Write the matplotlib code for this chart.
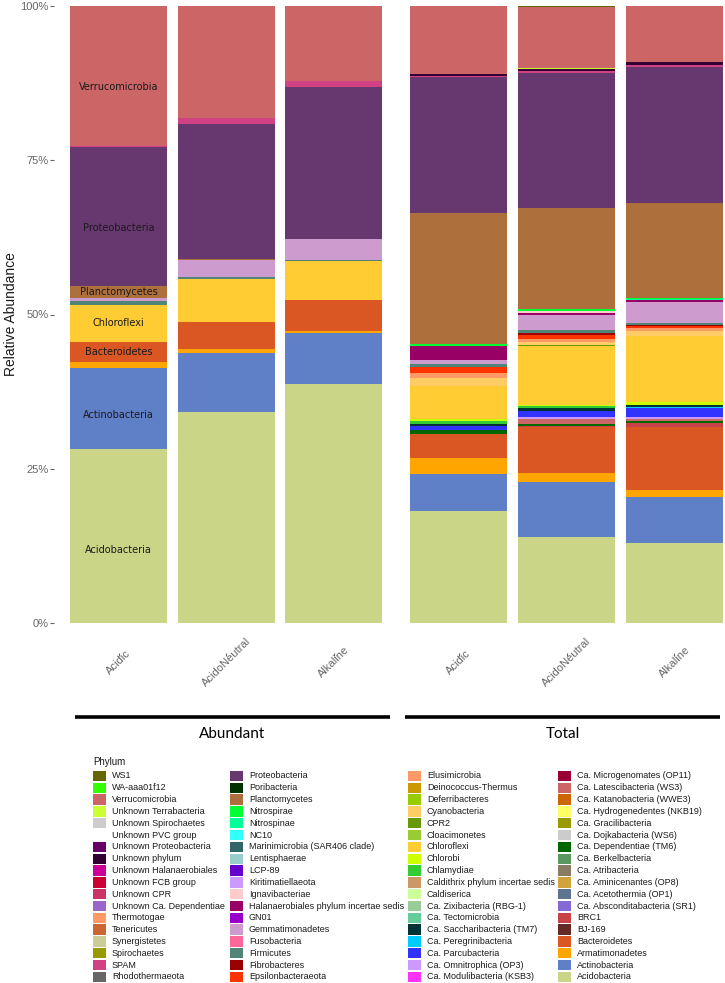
import matplotlib
matplotlib.use("Agg")
import matplotlib.pyplot as plt
from matplotlib.patches import Rectangle
import matplotlib.transforms as mtransforms
import numpy as np

# ---------------- data ----------------
phyla = [
    "WS1", "WA-aaa01f12", "Verrucomicrobia", "Unknown Terrabacteria", "Unknown Spirochaetes",
    "Unknown PVC group", "Unknown Proteobacteria", "Unknown phylum", "Unknown Halanaerobiales",
    "Unknown FCB group", "Unknown CPR", "Unknown Ca. Dependentiae", "Thermotogae", "Tenericutes",
    "Synergistetes", "Spirochaetes", "SPAM", "Rhodothermaeota",
    "Proteobacteria", "Poribacteria", "Planctomycetes", "Nitrospirae", "Nitrospinae", "NC10",
    "Marinimicrobia (SAR406 clade)", "Lentisphaerae", "LCP-89", "Kiritimatiellaeota", "Ignavibacteriae",
    "Halanaerobiales phylum incertae sedis", "GN01", "Gemmatimonadetes", "Fusobacteria", "Firmicutes",
    "Fibrobacteres", "Epsilonbacteraeota",
    "Elusimicrobia", "Deinococcus-Thermus", "Deferribacteres", "Cyanobacteria", "CPR2", "Cloacimonetes",
    "Chloroflexi", "Chlorobi", "Chlamydiae", "Caldithrix phylum incertae sedis", "Caldiserica",
    "Ca. Zixibacteria (RBG-1)", "Ca. Tectomicrobia", "Ca. Saccharibacteria (TM7)", "Ca. Peregrinibacteria",
    "Ca. Parcubacteria", "Ca. Omnitrophica (OP3)", "Ca. Modulibacteria (KSB3)",
    "Ca. Microgenomates (OP11)", "Ca. Latescibacteria (WS3)", "Ca. Katanobacteria (WWE3)",
    "Ca. Hydrogenedentes (NKB19)", "Ca. Gracilibacteria", "Ca. Dojkabacteria (WS6)",
    "Ca. Dependentiae (TM6)", "Ca. Berkelbacteria", "Ca. Atribacteria", "Ca. Aminicenantes (OP8)",
    "Ca. Acetothermia (OP1)", "Ca. Absconditabacteria (SR1)", "BRC1", "BJ-169", "Bacteroidetes",
    "Armatimonadetes", "Actinobacteria", "Acidobacteria",
]

phylum_colors = [
    "#666600", "#33FF00", "#CC6666", "#CCFF33", "#CCCCCC", "#FFFFFF", "#660066", "#330033", "#CC0099",
    "#CC0033", "#CC3366", "#9966CC", "#FF9966", "#CC6633", "#CCCC99", "#999900", "#D14285", "#666666",
    "#673770", "#003300", "#AD6F3B", "#00FF33", "#00FF99", "#33FFFF", "#336666", "#99CCCC", "#6600CC",
    "#CC99FF", "#FFCCCC", "#990066", "#9900CC", "#CD9BCD", "#FF6699", "#508578", "#990000", "#FF3300",
    "#FF9966", "#CC9900", "#99CC00", "#FFCC66", "#669900", "#99CC33", "#FFCC33", "#CCFF00", "#33CC33",
    "#CC9966", "#CCFF99", "#99CC99", "#66CC99", "#003333", "#00CCFF", "#3333FF", "#CC99FF", "#FF33FF",
    "#990033", "#CC6666", "#CC6600", "#FFFF66", "#999900", "#CCCCCC", "#006600", "#599861", "#8A7C64",
    "#D1A33D", "#5E738F", "#8569D5", "#C84248", "#652926", "#DA5724", "#FFA500", "#5F7FC7", "#CBD588",
]

samples = ["Acidic", "AcidoNeutral", "Alkaline", "Acidic", "AcidoNeutral", "Alkaline"]
groups = ["Abundant", "Total"]

abundant_acidic = {
    "Acidobacteria": 28.2, "Actinobacteria": 13.1, "Armatimonadetes": 1.0, "Bacteroidetes": 3.3,
    "Chloroflexi": 6.0, "Firmicutes": 0.6, "Gemmatimonadetes": 0.5, "Planctomycetes": 1.9,
    "Proteobacteria": 22.5, "SPAM": 0.2, "Verrucomicrobia": 22.7,
}
abundant_acidoneutral = {
    "Acidobacteria": 34.2, "Actinobacteria": 9.5, "Armatimonadetes": 0.7, "Bacteroidetes": 4.4,
    "Chloroflexi": 6.9, "Firmicutes": 0.4, "Gemmatimonadetes": 2.8, "Planctomycetes": 0.1,
    "Proteobacteria": 21.9, "SPAM": 0.9, "Verrucomicrobia": 18.2,
}
abundant_alkaline = {
    "Acidobacteria": 38.7, "Actinobacteria": 8.3, "Armatimonadetes": 0.4, "Bacteroidetes": 5.0,
    "Chloroflexi": 6.2, "Firmicutes": 0.3, "Gemmatimonadetes": 3.3, "Proteobacteria": 24.6,
    "SPAM": 1.0, "Verrucomicrobia": 12.2,
}
total_acidic = {
    "Acidobacteria": 18.2, "Actinobacteria": 6.0, "Armatimonadetes": 2.5, "Bacteroidetes": 3.9,
    "Ca. Dependentiae (TM6)": 0.6, "Ca. Omnitrophica (OP3)": 0.15, "Ca. Parcubacteria": 0.5,
    "Ca. Peregrinibacteria": 0.1, "Ca. Saccharibacteria (TM7)": 0.25, "Chlamydiae": 0.55,
    "Chlorobi": 0.3, "Chloroflexi": 5.4, "Cyanobacteria": 1.25, "Elusimicrobia": 0.75,
    "Epsilonbacteraeota": 1.1, "Firmicutes": 0.45, "Gemmatimonadetes": 0.65,
    "Halanaerobiales phylum incertae sedis": 2.2, "Nitrospirae": 0.3, "Planctomycetes": 21.3,
    "Proteobacteria": 22.0, "SPAM": 0.2, "Unknown phylum": 0.4, "Verrucomicrobia": 10.95,
}
total_acidoneutral = {
    "Acidobacteria": 13.9, "Actinobacteria": 8.9, "Armatimonadetes": 1.5, "Bacteroidetes": 7.5,
    "BRC1": 0.2, "Ca. Dependentiae (TM6)": 0.3, "Ca. Latescibacteria (WS3)": 0.8,
    "Ca. Omnitrophica (OP3)": 0.3, "Ca. Parcubacteria": 1.0, "Ca. Saccharibacteria (TM7)": 0.5,
    "Chlamydiae": 0.2, "Chlorobi": 0.3, "Chloroflexi": 9.5, "CPR2": 0.15, "Cyanobacteria": 0.45,
    "Elusimicrobia": 0.6, "Epsilonbacteraeota": 0.65, "Fibrobacteres": 0.3, "Firmicutes": 0.45,
    "Gemmatimonadetes": 2.5, "Halanaerobiales phylum incertae sedis": 0.3, "Ignavibacteriae": 0.2,
    "Nitrospirae": 0.4, "Planctomycetes": 16.4, "Proteobacteria": 21.8, "SPAM": 0.4,
    "Unknown phylum": 0.3, "Unknown Terrabacteria": 0.15, "Verrucomicrobia": 9.85, "WS1": 0.2,
}
total_alkaline = {
    "Acidobacteria": 12.9, "Actinobacteria": 7.5, "Armatimonadetes": 1.2, "Bacteroidetes": 10.2,
    "BRC1": 0.55, "Ca. Dependentiae (TM6)": 0.4, "Ca. Latescibacteria (WS3)": 0.25,
    "Ca. Omnitrophica (OP3)": 0.4, "Ca. Parcubacteria": 1.4, "Ca. Peregrinibacteria": 0.15,
    "Ca. Saccharibacteria (TM7)": 0.4, "Chlorobi": 0.45, "Chloroflexi": 10.7, "Cyanobacteria": 0.8,
    "Elusimicrobia": 0.55, "Epsilonbacteraeota": 0.3, "Fibrobacteres": 0.2, "Firmicutes": 0.3,
    "Gemmatimonadetes": 3.4, "Halanaerobiales phylum incertae sedis": 0.3, "Nitrospinae": 0.15,
    "Nitrospirae": 0.2, "Planctomycetes": 15.3, "Proteobacteria": 22.1, "SPAM": 0.4,
    "Unknown phylum": 0.5, "Verrucomicrobia": 9.0,
}

label_phyla = ["Verrucomicrobia", "Proteobacteria", "Planctomycetes", "Chloroflexi",
               "Bacteroidetes", "Actinobacteria", "Acidobacteria"]
y_ticks = [0, 25, 50, 75, 100]
y_tick_labels = ["0%", "25%", "50%", "75%", "100%"]

# ---------------- layout ----------------
W, H = 725, 983
fig = plt.figure(figsize=(W / 100, H / 100), dpi=100)
fig.patch.set_facecolor("white")

ax = fig.add_axes([54 / W, 1 - 623 / H, (W - 54) / W, (623 - 6) / H])
bar_data = [abundant_acidic, abundant_acidoneutral, abundant_alkaline,
            total_acidic, total_acidoneutral, total_alkaline]
xpos = np.array([0, 1, 2, 3.16, 4.16, 5.16])
color_of = dict(zip(phyla, phylum_colors))
stack_order = phyla[::-1]

for i, d in enumerate(bar_data):
    tot = sum(d.values())
    bottom = 0.0
    for p in stack_order:
        v = d.get(p, 0.0)
        if v <= 0:
            continue
        h = v / tot * 100
        ax.bar(xpos[i], h, bottom=bottom, width=0.9, color=color_of[p], linewidth=0)
        if i == 0 and p in label_phyla:
            yl = bottom + h / 2 - (0.08 * h if h > 10 else 0)
            ax.text(xpos[i], yl, p, ha="center", va="center",
                    fontsize=7, color="#1A1A1A", family="DejaVu Sans")
        bottom += h

ax.set_xlim(-0.599, 5.631)
ax.set_ylim(0, 100)
for s in ["top", "right", "left"]:
    ax.spines[s].set_visible(False)
ax.spines["bottom"].set_position(("outward", 21.6))
ax.spines["bottom"].set_visible(False)

ax.set_yticks(y_ticks)
ax.set_yticklabels(y_tick_labels, fontsize=8, color="#666666", family="Liberation Sans")
ax.tick_params(axis="y", length=2.6, width=0.8, color="#666666", pad=1.5)

fig.text(11 / W, 1 - 314 / H, "Relative Abundance", rotation=90, ha="center", va="center",
         fontsize=10, color="#1A1A1A", family="Liberation Sans")

ax.set_xticks(xpos)
ax.set_xticklabels(samples, rotation=45, ha="center", va="center", rotation_mode="anchor",
                   fontsize=8, color="#666666", family="Liberation Sans")
ax.tick_params(axis="x", length=2.5, width=0.8, color="#666666", pad=4.0)

trans = mtransforms.blended_transform_factory(ax.transData, ax.transAxes)
group_spans = [(xpos[0] - 0.404, xpos[2] + 0.52), (xpos[3] - 0.5, xpos[5] + 0.425)]
line_y = (623 - 717) / 617
text_y = (623 - 734) / 617
for g, (a, b) in zip(groups, group_spans):
    ax.plot([a, b], [line_y, line_y], transform=trans, color="black", lw=2.6,
            clip_on=False, solid_capstyle="butt")
    ax.text((a + b) / 2, text_y, g, transform=trans, ha="center", va="center",
            fontsize=11, color="black", family="Lato")

# ---------------- legend (manual, pixel layout) ----------------
lax = fig.add_axes([0, 0, 1, 1])
lax.set_xlim(0, W)
lax.set_ylim(H, 0)
lax.axis("off")
lax.text(93, 762, "Phylum", fontsize=7, color="#1A1A1A", va="center", ha="left",
         family="Liberation Sans")
col_x = [93, 230, 408, 558]
row0, pitch = 776, 11.82
for k, (name, col) in enumerate(zip(phyla, phylum_colors)):
    c, r = divmod(k, 18)
    yc = row0 + r * pitch
    lax.add_patch(Rectangle((col_x[c], yc - 5.2), 13, 10.4, facecolor=col, edgecolor="none"))
    lax.text(col_x[c] + 19, yc, name, fontsize=6.5, color="#1A1A1A", va="center", ha="left",
             family="Liberation Sans")

fig.savefig("out.png", dpi=100, facecolor="white")
